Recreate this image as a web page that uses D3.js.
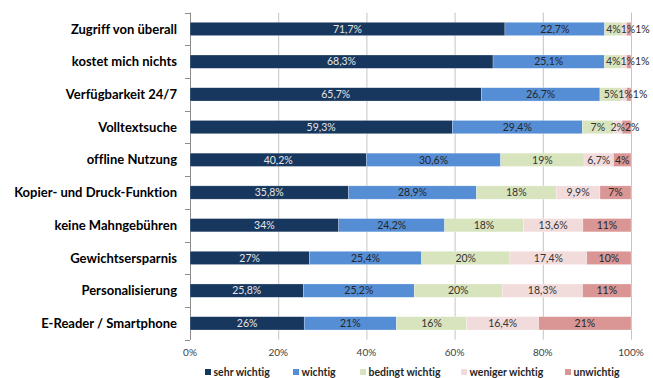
<!DOCTYPE html>
<html><head><meta charset="utf-8">
<script src="https://cdn.jsdelivr.net/npm/d3@7"></script>
<style>body{margin:0;background:#fff} svg{display:block;font-variant-ligatures:none}</style>
</head><body><svg id="chart" width="653" height="378"></svg>
<script>
// Feature ratings, 100 % stacked per feature
const categories = ["Zugriff von überall", "kostet mich nichts", "Verfügbarkeit 24/7", "Volltextsuche",
  "offline Nutzung", "Kopier- und Druck-Funktion", "keine Mahngebühren", "Gewichtsersparnis",
  "Personalisierung", "E-Reader / Smartphone"];
const seriesNames = ["sehr wichtig", "wichtig", "bedingt wichtig", "weniger wichtig", "unwichtig"];
const sehrWichtig    = [71.7, 68.3, 65.7, 59.3, 40.2, 35.8, 34, 27, 25.8, 26];
const wichtig        = [22.7, 25.1, 26.7, 29.4, 30.6, 28.9, 24.2, 25.4, 25.2, 21];
const bedingtWichtig = [4, 4, 5, 7, 19, 18, 18, 20, 20, 16];
const wenigerWichtig = [1, 1, 1, 2, 6.7, 9.9, 13.6, 17.4, 18.3, 16.4];
const unwichtig      = [1, 1, 1, 2, 4, 7, 11, 10, 11, 21];
const xTicks = [0, 20, 40, 60, 80, 100];

const seriesValues = [sehrWichtig, wichtig, bedingtWichtig, wenigerWichtig, unwichtig];
const colors = ["#17375E", "#558ED5", "#D7E4BD", "#F2DCDB", "#D99694"];
const labelColors = ["#e6e6e6", "#262626", "#333333", "#333333", "#262626"];
const FONT = "Lato, 'Open Sans', sans-serif";

const svg = d3.select("#chart");
const plotLeft = 190, plotRight = 631, plotTop = 12.6, plotBottom = 339.7;

const rows = categories.map((c, i) => {
  const r = { cat: c };
  seriesNames.forEach((s, k) => r[s] = seriesValues[k][i]);
  return r;
});
const stacked = d3.stack().keys(seriesNames).offset(d3.stackOffsetExpand)(rows);

const x = d3.scaleLinear().domain([0, 1]).range([plotLeft, plotRight]);
const y = d3.scaleBand().domain(categories).range([plotTop, plotBottom]).paddingInner(0.593).paddingOuter(0.2965);

// vertical gridlines
svg.append("g").selectAll("line").data(xTicks).join("line")
  .attr("x1", d => x(d / 100) + 0.5).attr("x2", d => x(d / 100) + 0.5)
  .attr("y1", plotTop).attr("y2", plotBottom)
  .attr("stroke", d => d === 0 ? "#8c8c8c" : "#c4c4c4").attr("stroke-width", 1);

// category axis tick marks at band boundaries
const step = y.step();
const bounds = d3.range(categories.length + 1).map(i => y(categories[0]) - step * y.paddingInner() / 2 + i * step);
svg.append("g").selectAll("line").data(bounds).join("line")
  .attr("x1", plotLeft - 5).attr("x2", plotLeft).attr("y1", d => Math.round(d) + 0.5).attr("y2", d => Math.round(d) + 0.5)
  .attr("stroke", "#8c8c8c");

// bars
const gSeries = svg.append("g").selectAll("g").data(stacked).join("g")
  .attr("fill", (d, k) => colors[k]);
gSeries.selectAll("rect").data(d => d).join("rect")
  .attr("x", d => x(d[0])).attr("width", d => x(d[1]) - x(d[0]))
  .attr("y", d => y(d.data.cat)).attr("height", y.bandwidth())
  .attr("stroke", "#ffffff").attr("stroke-opacity", 0.5).attr("stroke-width", 0.5);

// value labels, nudged so neighbours in a row do not overlap
const fmt = v => String(v).replace(".", ",") + "%";
const labelLayer = svg.append("g").attr("font-family", FONT).attr("font-size", 10.5);
categories.forEach((cat, i) => {
  let prevEnd = -Infinity;
  stacked.forEach((ser, k) => {
    const seg = ser[i];
    const t = labelLayer.append("text")
      .attr("y", y(cat) + y.bandwidth() / 2).attr("dy", "0.36em")
      .attr("fill", labelColors[k])
      .text(fmt(seriesValues[k][i]));
    const w = t.node().getComputedTextLength();
    let start = (x(seg[0]) + x(seg[1])) / 2 - w / 2;
    if (start < prevEnd) start = prevEnd;
    t.attr("x", start);
    prevEnd = start + w;
  });
});

// category labels, sized so the longest one spans the label column
const catLayer = svg.append("g").attr("font-family", FONT).attr("font-weight", "bold").attr("fill", "#000");
const probe = catLayer.append("text").attr("font-size", 13).text(categories[5]);
const catSize = 13 * 163 / probe.node().getComputedTextLength();
probe.remove();
catLayer.attr("font-size", catSize);
catLayer.selectAll("text").data(categories).join("text")
  .attr("x", 177).attr("y", d => y(d) + y.bandwidth() / 2).attr("dy", "0.36em")
  .attr("text-anchor", "end").text(d => d);

// x tick labels
svg.append("g").attr("font-family", FONT).attr("font-size", 10).attr("fill", "#404040")
  .selectAll("text").data(xTicks).join("text")
  .attr("x", d => x(d / 100)).attr("y", 356).attr("text-anchor", "middle").text(d => d + "%");

// legend
const legendX = [205, 293, 360, 461, 565];
const lg = svg.append("g").attr("font-family", FONT).attr("font-size", 10.5).attr("font-weight", "bold");
seriesNames.forEach((s, k) => {
  lg.append("rect").attr("x", legendX[k]).attr("y", 369).attr("width", 6).attr("height", 6).attr("fill", colors[k]);
  lg.append("text").attr("x", legendX[k] + 8.5).attr("y", 375.5).attr("fill", "#262626").text(s);
});
</script></body></html>
